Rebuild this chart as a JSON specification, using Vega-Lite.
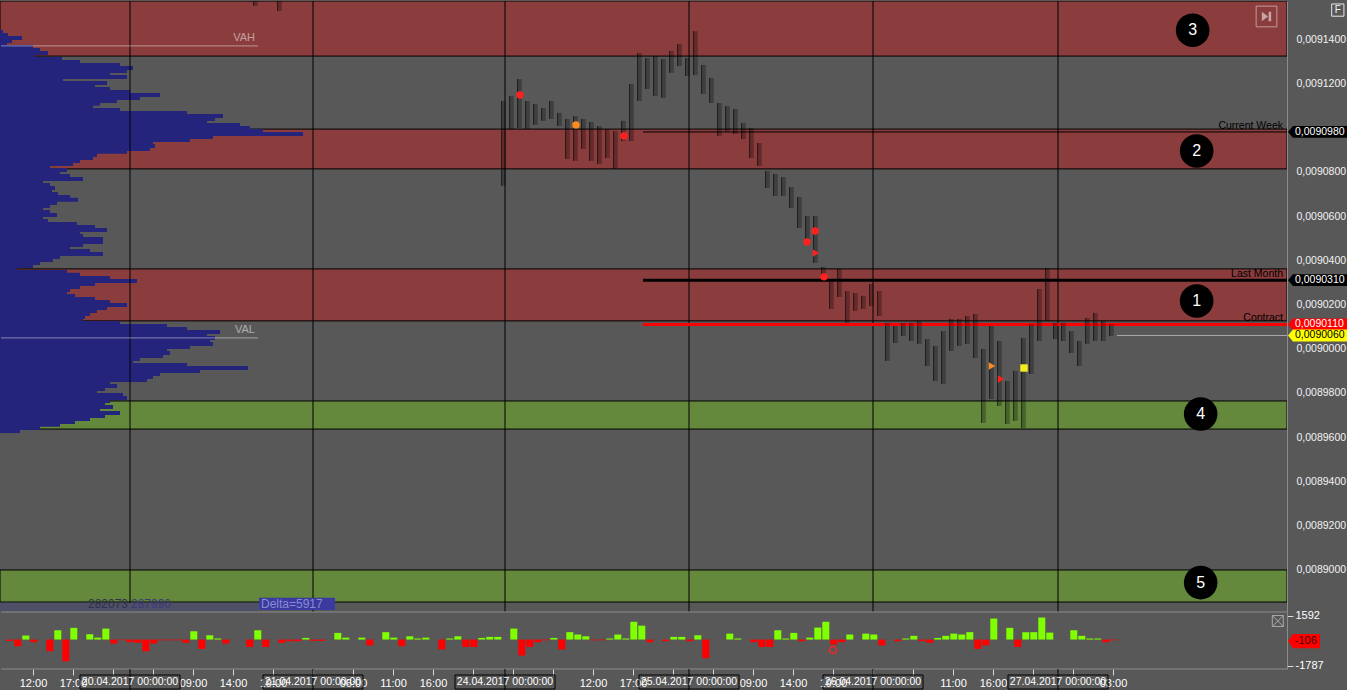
{
"$schema": "https://vega.github.io/schema/vega-lite/v6.json",
"background": "#585858",
"padding": 0,
"spacing": 0,
"bounds": "flush",
"config": {"view": {"stroke": null}, "axis": {"grid": false, "title": null, "labelFont": "Liberation Sans"}, "text": {"font": "Liberation Sans"}},
"datasets": {
"zones": [
{"zone": "3", "p": 0.0091572, "p2": 0.0091323, "kind": "resistance"},
{"zone": "2", "p": 0.0090993, "p2": 0.0090813, "kind": "resistance"},
{"zone": "1", "p": 0.0090361, "p2": 0.0090126, "kind": "resistance"},
{"zone": "4", "p": 0.0089764, "p2": 0.0089637, "kind": "support"},
{"zone": "5", "p": 0.0089000, "p2": 0.0088855, "kind": "support"}
],
"zoneLabels": [
{"zone": "3", "t": 144.96, "p": 0.0091440},
{"zone": "2", "t": 145.46, "p": 0.0090894},
{"zone": "1", "t": 145.46, "p": 0.0090216},
{"zone": "4", "t": 145.96, "p": 0.0089705},
{"zone": "5", "t": 145.96, "p": 0.0088943}
],
"days": [
{"t": 12.125, "label": "20.04.2017 00:00:00"},
{"t": 35, "label": "21.04.2017 00:00:00"},
{"t": 59, "label": "24.04.2017 00:00:00"},
{"t": 82, "label": "25.04.2017 00:00:00"},
{"t": 105, "label": "26.04.2017 00:00:00"},
{"t": 128.125, "label": "27.04.2017 00:00:00"}
],
"va": [{"name": "VAH", "p": 0.0091369}, {"name": "VAL", "p": 0.0090049}],
"levels": [
{"name": "Current Week", "p": 0.0090980, "label": "0,0090980"},
{"name": "Last Month", "p": 0.0090310, "label": "0,0090310"},
{"name": "Contract", "p": 0.0090110, "label": "0,0090110"},
{"name": "Last", "p": 0.0090060, "label": "0,0090060"}
],
"strip": [{"key": "ask", "text": "282073"}, {"key": "bid", "text": "287990"}, {"key": "delta", "text": "Delta=5917"}],
"icons": [{"icon": "F"}, {"icon": "skip"}],
"markers": [
{"t": 60.875, "p": 0.0091147, "m": "red", "s": "circle"},
{"t": 67.875, "p": 0.0091012, "m": "orange", "s": "circle"},
{"t": 73.875, "p": 0.0090962, "m": "red", "s": "circle"},
{"t": 96.75, "p": 0.0090483, "m": "red", "s": "circle"},
{"t": 97.75, "p": 0.0090532, "m": "red", "s": "circle"},
{"t": 97.875, "p": 0.0090433, "m": "red", "s": "triangle-right"},
{"t": 98.875, "p": 0.0090325, "m": "red", "s": "circle"},
{"t": 119.875, "p": 0.0089922, "m": "orange", "s": "triangle-right"},
{"t": 121, "p": 0.0089863, "m": "red", "s": "triangle-right"},
{"t": 123.875, "p": 0.0089913, "m": "yellow", "s": "square"}
],
"bars": [
{"t": 27.6, "p": 0.0091572, "p2": 0.0091550},
{"t": 30.6, "p": 0.0091572, "p2": 0.0091527},
{"t": 58.6, "p": 0.0091120, "p2": 0.0090736},
{"t": 59.6, "p": 0.0091143, "p2": 0.0090993},
{"t": 60.6, "p": 0.0091219, "p2": 0.0090998},
{"t": 61.6, "p": 0.0091120, "p2": 0.0090993},
{"t": 62.6, "p": 0.0091106, "p2": 0.0091012},
{"t": 63.6, "p": 0.0091088, "p2": 0.0091030},
{"t": 64.6, "p": 0.0091120, "p2": 0.0091039},
{"t": 65.6, "p": 0.0091066, "p2": 0.0091007},
{"t": 66.6, "p": 0.0091039, "p2": 0.0090858},
{"t": 67.6, "p": 0.0091052, "p2": 0.0090849},
{"t": 68.6, "p": 0.0091039, "p2": 0.0090903},
{"t": 69.6, "p": 0.0091025, "p2": 0.0090849},
{"t": 70.6, "p": 0.0091007, "p2": 0.0090835},
{"t": 71.6, "p": 0.0090993, "p2": 0.0090862},
{"t": 72.6, "p": 0.0090984, "p2": 0.0090813},
{"t": 73.6, "p": 0.0091030, "p2": 0.0090939},
{"t": 74.6, "p": 0.0091197, "p2": 0.0090939},
{"t": 75.6, "p": 0.0091337, "p2": 0.0091120},
{"t": 76.6, "p": 0.0091314, "p2": 0.0091174},
{"t": 77.6, "p": 0.0091323, "p2": 0.0091143},
{"t": 78.6, "p": 0.0091310, "p2": 0.0091134},
{"t": 79.6, "p": 0.0091346, "p2": 0.0091247},
{"t": 80.6, "p": 0.0091378, "p2": 0.0091278},
{"t": 81.6, "p": 0.0091314, "p2": 0.0091233},
{"t": 82.6, "p": 0.0091436, "p2": 0.0091237},
{"t": 83.6, "p": 0.0091283, "p2": 0.0091152},
{"t": 84.6, "p": 0.0091224, "p2": 0.0091111},
{"t": 85.6, "p": 0.0091111, "p2": 0.0090962},
{"t": 86.6, "p": 0.0091097, "p2": 0.0090984},
{"t": 87.6, "p": 0.0091084, "p2": 0.0090971},
{"t": 88.6, "p": 0.0091021, "p2": 0.0090948},
{"t": 89.6, "p": 0.0090998, "p2": 0.0090862},
{"t": 90.6, "p": 0.0090930, "p2": 0.0090826},
{"t": 91.6, "p": 0.0090804, "p2": 0.0090727},
{"t": 92.6, "p": 0.0090790, "p2": 0.0090691},
{"t": 93.6, "p": 0.0090776, "p2": 0.0090691},
{"t": 94.6, "p": 0.0090731, "p2": 0.0090636},
{"t": 95.6, "p": 0.0090686, "p2": 0.0090546},
{"t": 96.6, "p": 0.0090600, "p2": 0.0090469},
{"t": 97.6, "p": 0.0090600, "p2": 0.0090388},
{"t": 98.6, "p": 0.0090370, "p2": 0.0090315},
{"t": 99.6, "p": 0.0090306, "p2": 0.0090180},
{"t": 100.6, "p": 0.0090361, "p2": 0.0090234},
{"t": 101.6, "p": 0.0090261, "p2": 0.0090117},
{"t": 102.6, "p": 0.0090252, "p2": 0.0090171},
{"t": 103.6, "p": 0.0090239, "p2": 0.0090180},
{"t": 104.6, "p": 0.0090293, "p2": 0.0090193},
{"t": 105.6, "p": 0.0090261, "p2": 0.0090148},
{"t": 106.6, "p": 0.0090117, "p2": 0.0089945},
{"t": 107.6, "p": 0.0090103, "p2": 0.0090026},
{"t": 108.6, "p": 0.0090117, "p2": 0.0090058},
{"t": 109.6, "p": 0.0090117, "p2": 0.0090035},
{"t": 110.6, "p": 0.0090126, "p2": 0.0090022},
{"t": 111.6, "p": 0.0090044, "p2": 0.0089922},
{"t": 112.6, "p": 0.0090013, "p2": 0.0089854},
{"t": 113.6, "p": 0.0090080, "p2": 0.0089841},
{"t": 114.6, "p": 0.0090135, "p2": 0.0089990},
{"t": 115.6, "p": 0.0090135, "p2": 0.0090013},
{"t": 116.6, "p": 0.0090148, "p2": 0.0090022},
{"t": 117.6, "p": 0.0090157, "p2": 0.0089958},
{"t": 118.6, "p": 0.0089999, "p2": 0.0089665},
{"t": 119.6, "p": 0.0090103, "p2": 0.0089773},
{"t": 120.6, "p": 0.0090035, "p2": 0.0089741},
{"t": 121.6, "p": 0.0089854, "p2": 0.0089660},
{"t": 122.6, "p": 0.0089900, "p2": 0.0089674},
{"t": 123.6, "p": 0.0090049, "p2": 0.0089642},
{"t": 124.6, "p": 0.0090112, "p2": 0.0089886},
{"t": 125.6, "p": 0.0090270, "p2": 0.0090035},
{"t": 126.6, "p": 0.0090365, "p2": 0.0090126},
{"t": 127.6, "p": 0.0090117, "p2": 0.0090044},
{"t": 128.6, "p": 0.0090117, "p2": 0.0090035},
{"t": 129.6, "p": 0.0090080, "p2": 0.0089981},
{"t": 130.6, "p": 0.0090035, "p2": 0.0089922},
{"t": 131.6, "p": 0.0090139, "p2": 0.0090022},
{"t": 132.6, "p": 0.0090162, "p2": 0.0090035},
{"t": 133.6, "p": 0.0090126, "p2": 0.0090035},
{"t": 134.6, "p": 0.0090112, "p2": 0.0090058}
],
"profile": [
{"p": 0.0091432, "v": 30}, {"p": 0.0091418, "v": 80}, {"p": 0.0091405, "v": 220}, {"p": 0.0091391, "v": 120},
{"p": 0.0091378, "v": 70}, {"p": 0.0091364, "v": 330}, {"p": 0.0091351, "v": 400}, {"p": 0.0091337, "v": 480},
{"p": 0.0091324, "v": 350}, {"p": 0.0091310, "v": 620}, {"p": 0.0091296, "v": 800}, {"p": 0.0091283, "v": 1200},
{"p": 0.0091269, "v": 1330}, {"p": 0.0091256, "v": 1270}, {"p": 0.0091242, "v": 1100}, {"p": 0.0091229, "v": 1270},
{"p": 0.0091215, "v": 630}, {"p": 0.0091201, "v": 1070}, {"p": 0.0091188, "v": 950}, {"p": 0.0091174, "v": 1100},
{"p": 0.0091161, "v": 1300}, {"p": 0.0091147, "v": 1600}, {"p": 0.0091134, "v": 1400}, {"p": 0.0091120, "v": 1170},
{"p": 0.0091107, "v": 1000}, {"p": 0.0091093, "v": 930}, {"p": 0.0091079, "v": 1200}, {"p": 0.0091066, "v": 1870},
{"p": 0.0091052, "v": 2230}, {"p": 0.0091039, "v": 2150}, {"p": 0.0091025, "v": 2070}, {"p": 0.0091012, "v": 2400},
{"p": 0.0090998, "v": 2500}, {"p": 0.0090984, "v": 2630}, {"p": 0.0090971, "v": 3030}, {"p": 0.0090957, "v": 2130},
{"p": 0.0090944, "v": 1900}, {"p": 0.0090930, "v": 1530}, {"p": 0.0090917, "v": 1550}, {"p": 0.0090903, "v": 1500},
{"p": 0.0090890, "v": 1270}, {"p": 0.0090876, "v": 970}, {"p": 0.0090862, "v": 930}, {"p": 0.0090849, "v": 800},
{"p": 0.0090835, "v": 730}, {"p": 0.0090822, "v": 500}, {"p": 0.0090808, "v": 670}, {"p": 0.0090795, "v": 600},
{"p": 0.0090781, "v": 700}, {"p": 0.0090767, "v": 830}, {"p": 0.0090754, "v": 430}, {"p": 0.0090740, "v": 500},
{"p": 0.0090727, "v": 550}, {"p": 0.0090713, "v": 520}, {"p": 0.0090700, "v": 580}, {"p": 0.0090686, "v": 700},
{"p": 0.0090673, "v": 780}, {"p": 0.0090659, "v": 570}, {"p": 0.0090645, "v": 500}, {"p": 0.0090632, "v": 430},
{"p": 0.0090618, "v": 500}, {"p": 0.0090605, "v": 570}, {"p": 0.0090591, "v": 430}, {"p": 0.0090578, "v": 480},
{"p": 0.0090564, "v": 770}, {"p": 0.0090550, "v": 950}, {"p": 0.0090537, "v": 1070}, {"p": 0.0090523, "v": 800},
{"p": 0.0090510, "v": 830}, {"p": 0.0090496, "v": 1030}, {"p": 0.0090483, "v": 1030}, {"p": 0.0090469, "v": 830},
{"p": 0.0090456, "v": 700}, {"p": 0.0090442, "v": 900}, {"p": 0.0090428, "v": 1030}, {"p": 0.0090415, "v": 600},
{"p": 0.0090401, "v": 530}, {"p": 0.0090388, "v": 400}, {"p": 0.0090374, "v": 330}, {"p": 0.0090361, "v": 170},
{"p": 0.0090347, "v": 670}, {"p": 0.0090334, "v": 800}, {"p": 0.0090320, "v": 1100}, {"p": 0.0090306, "v": 1370},
{"p": 0.0090293, "v": 950}, {"p": 0.0090279, "v": 800}, {"p": 0.0090266, "v": 700}, {"p": 0.0090252, "v": 670},
{"p": 0.0090239, "v": 750}, {"p": 0.0090225, "v": 950}, {"p": 0.0090211, "v": 1100}, {"p": 0.0090198, "v": 1270},
{"p": 0.0090184, "v": 1070}, {"p": 0.0090171, "v": 970}, {"p": 0.0090157, "v": 900}, {"p": 0.0090144, "v": 850},
{"p": 0.0090130, "v": 830}, {"p": 0.0090116, "v": 1200}, {"p": 0.0090103, "v": 1670}, {"p": 0.0090089, "v": 1870},
{"p": 0.0090076, "v": 2200}, {"p": 0.0090062, "v": 2070}, {"p": 0.0090049, "v": 2150}, {"p": 0.0090035, "v": 2100},
{"p": 0.0090022, "v": 2130}, {"p": 0.0090008, "v": 1900}, {"p": 0.0089994, "v": 1670}, {"p": 0.0089981, "v": 1700},
{"p": 0.0089967, "v": 1630}, {"p": 0.0089954, "v": 1400}, {"p": 0.0089940, "v": 1330}, {"p": 0.0089927, "v": 1870},
{"p": 0.0089913, "v": 2480}, {"p": 0.0089899, "v": 2000}, {"p": 0.0089886, "v": 1600}, {"p": 0.0089872, "v": 1530},
{"p": 0.0089859, "v": 1470}, {"p": 0.0089845, "v": 1100}, {"p": 0.0089832, "v": 1170}, {"p": 0.0089818, "v": 1050},
{"p": 0.0089805, "v": 970}, {"p": 0.0089791, "v": 1230}, {"p": 0.0089777, "v": 1270}, {"p": 0.0089764, "v": 1100},
{"p": 0.0089750, "v": 1050}, {"p": 0.0089737, "v": 1130}, {"p": 0.0089723, "v": 1000}, {"p": 0.0089710, "v": 1200},
{"p": 0.0089696, "v": 1050}, {"p": 0.0089683, "v": 900}, {"p": 0.0089669, "v": 750}, {"p": 0.0089656, "v": 600},
{"p": 0.0089642, "v": 400}, {"p": 0.0089628, "v": 200}
],
"delta": [
{"t": -2.9, "d": -100}, {"t": -1.9, "d": -450}, {"t": -0.9, "d": 270}, {"t": 0.1, "d": -180},
{"t": 2.1, "d": -790}, {"t": 3.1, "d": 630}, {"t": 4.1, "d": -1465}, {"t": 5.1, "d": 790},
{"t": 7.1, "d": 360}, {"t": 8.1, "d": 130}, {"t": 9.1, "d": 740}, {"t": 10.1, "d": -270},
{"t": 11.1, "d": -40}, {"t": 12.1, "d": -180}, {"t": 13.1, "d": -220}, {"t": 14.1, "d": -790},
{"t": 15.1, "d": -270}, {"t": 16.1, "d": -50}, {"t": 17.1, "d": -50}, {"t": 18.1, "d": -50},
{"t": 19.1, "d": -220}, {"t": 20.1, "d": 560}, {"t": 21.1, "d": -630}, {"t": 22.1, "d": 290},
{"t": 23.1, "d": 70}, {"t": 24.1, "d": -270}, {"t": 27.1, "d": -500}, {"t": 28.1, "d": 630},
{"t": 29.1, "d": -500}, {"t": 31.1, "d": -220}, {"t": 32.1, "d": -110}, {"t": 33.1, "d": -110},
{"t": 34.1, "d": 110}, {"t": 35.1, "d": -90}, {"t": 36.1, "d": -90}, {"t": 38.1, "d": 450},
{"t": 39.1, "d": 130}, {"t": 41.1, "d": 130}, {"t": 42.1, "d": -400}, {"t": 44.1, "d": 500},
{"t": 45.1, "d": 130}, {"t": 46.1, "d": -450}, {"t": 47.1, "d": 220}, {"t": 48.1, "d": 70},
{"t": 49.1, "d": 130}, {"t": 51.1, "d": -670}, {"t": 52.1, "d": 70}, {"t": 53.1, "d": 220},
{"t": 54.1, "d": -500}, {"t": 55.1, "d": -500}, {"t": 56.1, "d": 110}, {"t": 57.1, "d": 180},
{"t": 58.1, "d": 180}, {"t": 60.1, "d": 740}, {"t": 61.1, "d": -1080}, {"t": 62.1, "d": -500},
{"t": 63.1, "d": -180}, {"t": 64.1, "d": -50}, {"t": 65.1, "d": 110}, {"t": 66.1, "d": -670},
{"t": 67.1, "d": 500}, {"t": 68.1, "d": 340}, {"t": 69.1, "d": 220}, {"t": 70.1, "d": -50},
{"t": 71.1, "d": -50}, {"t": 72.1, "d": 70}, {"t": 73.1, "d": 340}, {"t": 74.1, "d": 70},
{"t": 75.1, "d": 1200}, {"t": 76.1, "d": 940}, {"t": 77.1, "d": -180}, {"t": 79.1, "d": -110},
{"t": 80.1, "d": 180}, {"t": 81.1, "d": 180}, {"t": 82.1, "d": -110}, {"t": 83.1, "d": 290},
{"t": 84.1, "d": -1260}, {"t": 87.1, "d": 400}, {"t": 88.1, "d": 70}, {"t": 90.1, "d": -180},
{"t": 91.1, "d": -500}, {"t": 92.1, "d": -500}, {"t": 93.1, "d": 630}, {"t": 94.1, "d": 70},
{"t": 95.1, "d": 450}, {"t": 96.1, "d": -110}, {"t": 97.1, "d": 130}, {"t": 98.1, "d": 810},
{"t": 99.1, "d": 1200}, {"t": 100.1, "d": -340}, {"t": 101.1, "d": -180}, {"t": 102.1, "d": 340},
{"t": 104.1, "d": 400}, {"t": 105.1, "d": 340}, {"t": 106.1, "d": -400}, {"t": 108.1, "d": -110},
{"t": 109.1, "d": 70}, {"t": 110.1, "d": 250}, {"t": 111.1, "d": -110}, {"t": 112.1, "d": -220},
{"t": 113.1, "d": 110}, {"t": 114.1, "d": 250}, {"t": 115.1, "d": 400}, {"t": 116.1, "d": 340},
{"t": 117.1, "d": 500}, {"t": 118.1, "d": -630}, {"t": 119.1, "d": -400}, {"t": 120.1, "d": 1420},
{"t": 122.1, "d": 790}, {"t": 123.1, "d": -500}, {"t": 124.1, "d": 500}, {"t": 125.1, "d": 500},
{"t": 126.1, "d": 1490}, {"t": 127.1, "d": 470}, {"t": 130.1, "d": 630}, {"t": 131.1, "d": 250},
{"t": 132.1, "d": 70}, {"t": 133.1, "d": 70}, {"t": 134.1, "d": -180}, {"t": 135.1, "d": -50}
],
"deltaMarks": [{"t": 100, "d": -707}],
"lastDelta": [{"d": -106, "label": "-106"}],
"frame": [{"edge": "top", "d": 1862}, {"edge": "bottom", "d": -1990}]
},
"vconcat": [
{
"width": 1287, "height": 611,
"resolve": {"scale": {"x": "independent", "fill": "independent", "color": "independent"}},
"layer": [
{
"data": {"name": "zones"},
"mark": {"type": "rect", "stroke": "#000000", "strokeWidth": 1, "clip": true},
"encoding": {
"x": {"datum": -4.125, "type": "quantitative", "scale": {"domain": [-4.125, 156.75], "nice": false, "padding": 0}, "axis": null},
"x2": {"datum": 156.75},
"y": {"field": "p", "type": "quantitative", "scale": {"domain": [0.008881, 0.0091572], "nice": false, "zero": false, "padding": 0},
"axis": {"orient": "right", "values": [0.0089, 0.00892, 0.00894, 0.00896, 0.00898, 0.009, 0.00902, 0.00904, 0.00906, 0.00908, 0.00912, 0.00914],
"labelExpr": "replace(format(datum.value, '.7f'), '.', ',')", "ticks": false, "tickSize": 0, "labelPadding": 9,
"labelColor": "#f2f2f2", "labelFontSize": 10.5, "labelFont": "Liberation Sans", "domain": true, "domainColor": "#8c8c8c", "domainWidth": 1,
"title": null, "grid": false, "labelAlign": "left", "labelBaseline": "middle", "labelOverlap": false, "labelFlush": false}},
"y2": {"field": "p2"},
"fill": {"field": "kind", "type": "nominal", "scale": {"domain": ["resistance", "support"], "range": ["#8b3c3c", "#64893d"]}, "legend": null}
}
},
{
"data": {"name": "profile"},
"mark": {"type": "bar", "orient": "horizontal", "size": 4, "color": "#24247c"},
"encoding": {
"x": {"field": "v", "type": "quantitative", "scale": {"domain": [0, 12870], "nice": false, "padding": 0}, "axis": null, "stack": null},
"y": {"field": "p", "type": "quantitative", "scale": {"domain": [0.008881, 0.0091572], "nice": false, "zero": false, "padding": 0}, "title": null}
}
},
{
"resolve": {"scale": {"color": "independent", "shape": "independent", "fill": "independent"}},
"layer": [
{
"data": {"name": "days"},
"mark": {"type": "rule", "color": "#000000", "strokeWidth": 1},
"encoding": {"x": {"field": "t", "type": "quantitative", "scale": {"domain": [-4.125, 156.75], "nice": false, "padding": 0}, "axis": null}}
},
{
"data": {"name": "va"},
"mark": {"type": "rule", "color": "#ffffff", "opacity": 0.45, "strokeWidth": 1},
"encoding": {
"x": {"datum": -4.0, "type": "quantitative", "scale": {"domain": [-4.125, 156.75], "nice": false, "padding": 0}, "axis": null},
"x2": {"datum": 28.125},
"y": {"field": "p", "type": "quantitative", "scale": {"domain": [0.008881, 0.0091572], "nice": false, "zero": false, "padding": 0}, "title": null}
}
},
{
"data": {"name": "va"},
"mark": {"type": "text", "color": "#ffffff", "opacity": 0.5, "align": "right", "baseline": "middle", "dy": -8, "fontSize": 11},
"encoding": {
"x": {"datum": 27.75, "type": "quantitative", "scale": {"domain": [-4.125, 156.75], "nice": false, "padding": 0}, "axis": null},
"y": {"field": "p", "type": "quantitative", "scale": {"domain": [0.008881, 0.0091572], "nice": false, "zero": false, "padding": 0}, "title": null},
"text": {"field": "name"}
}
},
{
"data": {"name": "levels"},
"transform": [{"filter": "datum.name == 'Current Week'"}],
"mark": {"type": "rule", "color": "#000000", "strokeWidth": 1},
"encoding": {
"x": {"datum": 76.25, "type": "quantitative", "scale": {"domain": [-4.125, 156.75], "nice": false, "padding": 0}, "axis": null},
"x2": {"datum": 156.75},
"y": {"field": "p", "type": "quantitative", "scale": {"domain": [0.008881, 0.0091572], "nice": false, "zero": false, "padding": 0}, "title": null}
}
},
{
"data": {"name": "levels"},
"transform": [{"filter": "datum.name == 'Last Month'"}],
"mark": {"type": "rule", "color": "#000000", "strokeWidth": 3},
"encoding": {
"x": {"datum": 76.25, "type": "quantitative", "scale": {"domain": [-4.125, 156.75], "nice": false, "padding": 0}, "axis": null},
"x2": {"datum": 156.75},
"y": {"field": "p", "type": "quantitative", "scale": {"domain": [0.008881, 0.0091572], "nice": false, "zero": false, "padding": 0}, "title": null}
}
},
{
"data": {"name": "levels"},
"transform": [{"filter": "datum.name == 'Contract'"}],
"mark": {"type": "rule", "color": "#ff0000", "strokeWidth": 3},
"encoding": {
"x": {"datum": 76.25, "type": "quantitative", "scale": {"domain": [-4.125, 156.75], "nice": false, "padding": 0}, "axis": null},
"x2": {"datum": 156.75},
"y": {"field": "p", "type": "quantitative", "scale": {"domain": [0.008881, 0.0091572], "nice": false, "zero": false, "padding": 0}, "title": null}
}
},
{
"data": {"name": "levels"},
"transform": [{"filter": "datum.name == 'Last'"}],
"mark": {"type": "rule", "color": "#a8a8a8", "strokeWidth": 1},
"encoding": {
"x": {"datum": 135.5, "type": "quantitative", "scale": {"domain": [-4.125, 156.75], "nice": false, "padding": 0}, "axis": null},
"x2": {"datum": 156.75},
"y": {"field": "p", "type": "quantitative", "scale": {"domain": [0.008881, 0.0091572], "nice": false, "zero": false, "padding": 0}, "title": null}
}
},
{
"data": {"name": "levels"},
"transform": [{"filter": "datum.name != 'Last'"}],
"mark": {"type": "text", "color": "#000000", "align": "right", "baseline": "alphabetic", "dy": -3, "fontSize": 10.5},
"encoding": {
"x": {"datum": 156.25, "type": "quantitative", "scale": {"domain": [-4.125, 156.75], "nice": false, "padding": 0}, "axis": null},
"y": {"field": "p", "type": "quantitative", "scale": {"domain": [0.008881, 0.0091572], "nice": false, "zero": false, "padding": 0}, "title": null},
"text": {"field": "name"}
}
},
{
"data": {"name": "bars"},
"mark": {"type": "rule", "color": "#000000", "opacity": 0.28, "strokeWidth": 3, "xOffset": 2.5, "clip": true},
"encoding": {
"x": {"field": "t", "type": "quantitative", "scale": {"domain": [-4.125, 156.75], "nice": false, "padding": 0}, "axis": null},
"y": {"field": "p", "type": "quantitative", "scale": {"domain": [0.008881, 0.0091572], "nice": false, "zero": false, "padding": 0}, "title": null},
"y2": {"field": "p2"}
}
},
{
"data": {"name": "bars"},
"mark": {"type": "rule", "color": "#000000", "opacity": 0.9, "strokeWidth": 1, "clip": true},
"encoding": {
"x": {"field": "t", "type": "quantitative", "scale": {"domain": [-4.125, 156.75], "nice": false, "padding": 0}, "axis": null},
"y": {"field": "p", "type": "quantitative", "scale": {"domain": [0.008881, 0.0091572], "nice": false, "zero": false, "padding": 0}, "title": null},
"y2": {"field": "p2"}
}
},
{
"data": {"name": "markers"},
"mark": {"type": "point", "filled": true, "size": 55, "opacity": 1},
"encoding": {
"x": {"field": "t", "type": "quantitative", "scale": {"domain": [-4.125, 156.75], "nice": false, "padding": 0}, "axis": null},
"y": {"field": "p", "type": "quantitative", "scale": {"domain": [0.008881, 0.0091572], "nice": false, "zero": false, "padding": 0}, "title": null},
"color": {"field": "m", "type": "nominal", "scale": {"domain": ["red", "orange", "yellow"], "range": ["#ff2020", "#ff8a20", "#f4ee20"]}, "legend": null},
"shape": {"field": "s", "type": "nominal", "scale": {"domain": ["circle", "triangle-right", "square"], "range": ["circle", "triangle-right", "square"]}, "legend": null}
}
},
{
"data": {"name": "zoneLabels"},
"mark": {"type": "point", "filled": true, "shape": "circle", "size": 1130, "color": "#000000", "opacity": 1},
"encoding": {
"x": {"field": "t", "type": "quantitative", "scale": {"domain": [-4.125, 156.75], "nice": false, "padding": 0}, "axis": null},
"y": {"field": "p", "type": "quantitative", "scale": {"domain": [0.008881, 0.0091572], "nice": false, "zero": false, "padding": 0}, "title": null}
}
},
{
"data": {"name": "zoneLabels"},
"mark": {"type": "text", "color": "#ffffff", "fontSize": 16, "align": "center", "baseline": "middle"},
"encoding": {
"x": {"field": "t", "type": "quantitative", "scale": {"domain": [-4.125, 156.75], "nice": false, "padding": 0}, "axis": null},
"y": {"field": "p", "type": "quantitative", "scale": {"domain": [0.008881, 0.0091572], "nice": false, "zero": false, "padding": 0}, "title": null},
"text": {"field": "zone"}
}
},
{
"data": {"name": "levels"},
"mark": {"type": "point", "filled": true, "opacity": 1, "size": 3481, "shape": "M-1,0L-0.83,-0.2L1,-0.2L1,0.2L-0.83,0.2Z"},
"encoding": {
"x": {"datum": 160.56, "type": "quantitative", "scale": {"domain": [-4.125, 156.75], "nice": false, "padding": 0}, "axis": null},
"y": {"field": "p", "type": "quantitative", "scale": {"domain": [0.008881, 0.0091572], "nice": false, "zero": false, "padding": 0}, "title": null},
"fill": {"field": "name", "type": "nominal", "scale": {"domain": ["Current Week", "Last Month", "Contract", "Last"], "range": ["#000000", "#000000", "#ff0000", "#ffff00"]}, "legend": null}
}
},
{
"data": {"name": "levels"},
"mark": {"type": "text", "align": "left", "baseline": "middle", "fontSize": 10.5},
"encoding": {
"x": {"datum": 157.75, "type": "quantitative", "scale": {"domain": [-4.125, 156.75], "nice": false, "padding": 0}, "axis": null},
"y": {"field": "p", "type": "quantitative", "scale": {"domain": [0.008881, 0.0091572], "nice": false, "zero": false, "padding": 0}, "title": null},
"text": {"field": "label"},
"color": {"field": "name", "type": "nominal", "scale": {"domain": ["Current Week", "Last Month", "Contract", "Last"], "range": ["#ffffff", "#ffffff", "#ffffff", "#000000"]}, "legend": null}
}
},
{
"data": {"name": "strip"},
"transform": [{"filter": "datum.key == 'ask'"}],
"mark": {"type": "rect", "color": "#4f4f68"},
"encoding": {
"x": {"datum": -4.125, "type": "quantitative", "scale": {"domain": [-4.125, 156.75], "nice": false, "padding": 0}, "axis": null},
"x2": {"datum": 28.125},
"y": {"datum": 0.0088852, "type": "quantitative", "scale": {"domain": [0.008881, 0.0091572], "nice": false, "zero": false, "padding": 0}},
"y2": {"datum": 0.0088812}
}
},
{
"data": {"name": "strip"},
"transform": [{"filter": "datum.key == 'delta'"}],
"mark": {"type": "rect", "color": "#3a3aa0"},
"encoding": {
"x": {"datum": 28.25, "type": "quantitative", "scale": {"domain": [-4.125, 156.75], "nice": false, "padding": 0}, "axis": null},
"x2": {"datum": 37.75},
"y": {"datum": 0.0088874, "type": "quantitative", "scale": {"domain": [0.008881, 0.0091572], "nice": false, "zero": false, "padding": 0}},
"y2": {"datum": 0.0088819}
}
},
{
"data": {"name": "strip"},
"transform": [{"filter": "datum.key == 'ask'"}],
"mark": {"type": "text", "color": "#30304c", "align": "right", "baseline": "middle", "fontSize": 12},
"encoding": {
"x": {"datum": 11.875, "type": "quantitative", "scale": {"domain": [-4.125, 156.75], "nice": false, "padding": 0}, "axis": null},
"y": {"datum": 0.0088846, "type": "quantitative", "scale": {"domain": [0.008881, 0.0091572], "nice": false, "zero": false, "padding": 0}},
"text": {"field": "text"}
}
},
{
"data": {"name": "strip"},
"transform": [{"filter": "datum.key == 'bid'"}],
"mark": {"type": "text", "color": "#3a3a78", "align": "left", "baseline": "middle", "fontSize": 12},
"encoding": {
"x": {"datum": 12.25, "type": "quantitative", "scale": {"domain": [-4.125, 156.75], "nice": false, "padding": 0}, "axis": null},
"y": {"datum": 0.0088846, "type": "quantitative", "scale": {"domain": [0.008881, 0.0091572], "nice": false, "zero": false, "padding": 0}},
"text": {"field": "text"}
}
},
{
"data": {"name": "strip"},
"transform": [{"filter": "datum.key == 'delta'"}],
"mark": {"type": "text", "color": "#8a8ad0", "align": "left", "baseline": "middle", "fontSize": 12},
"encoding": {
"x": {"datum": 28.5, "type": "quantitative", "scale": {"domain": [-4.125, 156.75], "nice": false, "padding": 0}, "axis": null},
"y": {"datum": 0.0088846, "type": "quantitative", "scale": {"domain": [0.008881, 0.0091572], "nice": false, "zero": false, "padding": 0}},
"text": {"field": "text"}
}
},
{
"data": {"name": "icons"},
"transform": [{"filter": "datum.icon == 'F'"}],
"mark": {"type": "point", "shape": "square", "size": 150, "filled": false, "stroke": "#e8e8e8", "strokeWidth": 1, "opacity": 1},
"encoding": {
"x": {"datum": 163.1, "type": "quantitative", "scale": {"domain": [-4.125, 156.75], "nice": false, "padding": 0}, "axis": null},
"y": {"datum": 0.0091531, "type": "quantitative", "scale": {"domain": [0.008881, 0.0091572], "nice": false, "zero": false, "padding": 0}}
}
},
{
"data": {"name": "icons"},
"transform": [{"filter": "datum.icon == 'F'"}],
"mark": {"type": "text", "color": "#f0f0f0", "fontSize": 10, "align": "center", "baseline": "middle"},
"encoding": {
"x": {"datum": 163.1, "type": "quantitative", "scale": {"domain": [-4.125, 156.75], "nice": false, "padding": 0}, "axis": null},
"y": {"datum": 0.0091531, "type": "quantitative", "scale": {"domain": [0.008881, 0.0091572], "nice": false, "zero": false, "padding": 0}},
"text": {"field": "icon"}
}
},
{
"data": {"name": "icons"},
"transform": [{"filter": "datum.icon == 'skip'"}],
"mark": {"type": "point", "shape": "square", "size": 430, "filled": false, "stroke": "#c49a9a", "strokeWidth": 1, "opacity": 1},
"encoding": {
"x": {"datum": 154.19, "type": "quantitative", "scale": {"domain": [-4.125, 156.75], "nice": false, "padding": 0}, "axis": null},
"y": {"datum": 0.0091502, "type": "quantitative", "scale": {"domain": [0.008881, 0.0091572], "nice": false, "zero": false, "padding": 0}}
}
},
{
"data": {"name": "icons"},
"transform": [{"filter": "datum.icon == 'skip'"}],
"mark": {"type": "point", "shape": "M-0.45,-0.45L0.15,0L-0.45,0.45ZM0.2,-0.45L0.45,-0.45L0.45,0.45L0.2,0.45Z", "size": 430, "filled": true, "color": "#c4a4a4", "opacity": 1},
"encoding": {
"x": {"datum": 154.19, "type": "quantitative", "scale": {"domain": [-4.125, 156.75], "nice": false, "padding": 0}, "axis": null},
"y": {"datum": 0.0091502, "type": "quantitative", "scale": {"domain": [0.008881, 0.0091572], "nice": false, "zero": false, "padding": 0}}
}
}
]
}
]
},
{
"width": 1287, "height": 57,
"layer": [
{
"data": {"name": "frame"},
"mark": {"type": "rule", "color": "#8c8c8c", "strokeWidth": 1},
"encoding": {
"x": {"datum": -4.0, "type": "quantitative", "scale": {"domain": [-4.125, 156.75], "nice": false, "padding": 0}},
"x2": {"datum": 156.75},
"y": {"field": "d", "type": "quantitative", "scale": {"domain": [-1990, 1862], "nice": false, "zero": false, "padding": 0}, "title": null}
}
},
{
"data": {"name": "delta"},
"mark": {"type": "bar", "orient": "vertical", "size": 7},
"encoding": {
"x": {"field": "t", "type": "quantitative", "scale": {"domain": [-4.125, 156.75], "nice": false, "padding": 0},
"axis": {"orient": "bottom", "values": [0, 5, 10, 15, 20, 25, 30, 35, 40, 45, 50, 55, 60, 65, 70, 75, 80, 85, 90, 95, 100, 105, 110, 115, 120, 125, 130, 135],
"labelExpr": "['12:00','17:00','','','09:00','14:00','19:00','','06:00','11:00','16:00','','','','12:00','17:00','','','09:00','14:00','19:00','','','11:00','16:00','','','03:00'][round(datum.value / 5)]",
"ticks": true, "tickSize": 6, "tickColor": "#d8d8d8", "labelColor": "#ffffff", "labelFontSize": 11, "labelFont": "Liberation Sans", "labelPadding": 2,
"domain": false, "grid": false, "title": null, "labelOverlap": false, "labelFlush": false}},
"y": {"field": "d", "type": "quantitative", "scale": {"domain": [-1990, 1862], "nice": false, "zero": false, "padding": 0},
"axis": {"orient": "right", "values": [1592, -1787], "labelExpr": "'' + datum.value", "ticks": true, "tickSize": 6, "tickColor": "#dddddd", "labelPadding": 2,
"labelColor": "#ffffff", "labelFontSize": 11, "labelFont": "Liberation Sans", "domain": true, "domainColor": "#8c8c8c", "title": null, "grid": false, "labelBaseline": "middle", "labelOverlap": false}},
"y2": {"datum": 0},
"color": {"condition": {"test": "datum.d >= 0", "value": "#80ff00"}, "value": "#ff0000"}
}
},
{
"data": {"name": "deltaMarks"},
"mark": {"type": "point", "shape": "circle", "filled": false, "stroke": "#ff2020", "strokeWidth": 1.5, "size": 50, "opacity": 1},
"encoding": {
"x": {"field": "t", "type": "quantitative", "scale": {"domain": [-4.125, 156.75], "nice": false, "padding": 0}, "title": null},
"y": {"field": "d", "type": "quantitative", "scale": {"domain": [-1990, 1862], "nice": false, "zero": false, "padding": 0}, "title": null}
}
},
{
"data": {"name": "lastDelta"},
"mark": {"type": "point", "shape": "M-1,0L-0.69,-0.44L1,-0.44L1,0.44L-0.69,0.44Z", "size": 1024, "filled": true, "color": "#ff0000", "opacity": 1},
"encoding": {
"x": {"datum": 158.875, "type": "quantitative", "scale": {"domain": [-4.125, 156.75], "nice": false, "padding": 0}},
"y": {"field": "d", "type": "quantitative", "scale": {"domain": [-1990, 1862], "nice": false, "zero": false, "padding": 0}, "title": null}
}
},
{
"data": {"name": "lastDelta"},
"mark": {"type": "text", "color": "#3a0000", "fontSize": 11, "align": "center", "baseline": "middle"},
"encoding": {
"x": {"datum": 159.1, "type": "quantitative", "scale": {"domain": [-4.125, 156.75], "nice": false, "padding": 0}},
"y": {"field": "d", "type": "quantitative", "scale": {"domain": [-1990, 1862], "nice": false, "zero": false, "padding": 0}, "title": null},
"text": {"field": "label"}
}
},
{
"data": {"name": "lastDelta"},
"mark": {"type": "point", "shape": "M-1,-1L1,-1L1,1L-1,1ZM-1,-1L1,1M1,-1L-1,1", "size": 121, "filled": false, "stroke": "#a8a8a8", "strokeWidth": 1, "opacity": 1},
"encoding": {
"x": {"datum": 155.6, "type": "quantitative", "scale": {"domain": [-4.125, 156.75], "nice": false, "padding": 0}},
"y": {"datum": 1254, "type": "quantitative", "scale": {"domain": [-1990, 1862], "nice": false, "zero": false, "padding": 0}}
}
},
{
"data": {"name": "days"},
"mark": {"type": "rule", "color": "#000000", "strokeWidth": 1},
"encoding": {
"x": {"field": "t", "type": "quantitative", "scale": {"domain": [-4.125, 156.75], "nice": false, "padding": 0}, "title": null},
"y": {"datum": -1990, "type": "quantitative", "scale": {"domain": [-1990, 1862], "nice": false, "zero": false, "padding": 0}},
"y2": {"datum": -3440}
}
},
{
"data": {"name": "days"},
"mark": {"type": "point", "shape": "M-1,-0.14L1,-0.14L1,0.14L-1,0.14Z", "size": 10000, "filled": false, "stroke": "#000000", "strokeWidth": 1, "opacity": 1},
"encoding": {
"x": {"field": "t", "type": "quantitative", "scale": {"domain": [-4.125, 156.75], "nice": false, "padding": 0}, "title": null},
"y": {"datum": -2869, "type": "quantitative", "scale": {"domain": [-1990, 1862], "nice": false, "zero": false, "padding": 0}}
}
},
{
"data": {"name": "days"},
"mark": {"type": "text", "color": "#ffffff", "fontSize": 10.5, "align": "center", "baseline": "middle"},
"encoding": {
"x": {"field": "t", "type": "quantitative", "scale": {"domain": [-4.125, 156.75], "nice": false, "padding": 0}, "title": null},
"y": {"datum": -2869, "type": "quantitative", "scale": {"domain": [-1990, 1862], "nice": false, "zero": false, "padding": 0}},
"text": {"field": "label"}
}
}
]
}
]
}
